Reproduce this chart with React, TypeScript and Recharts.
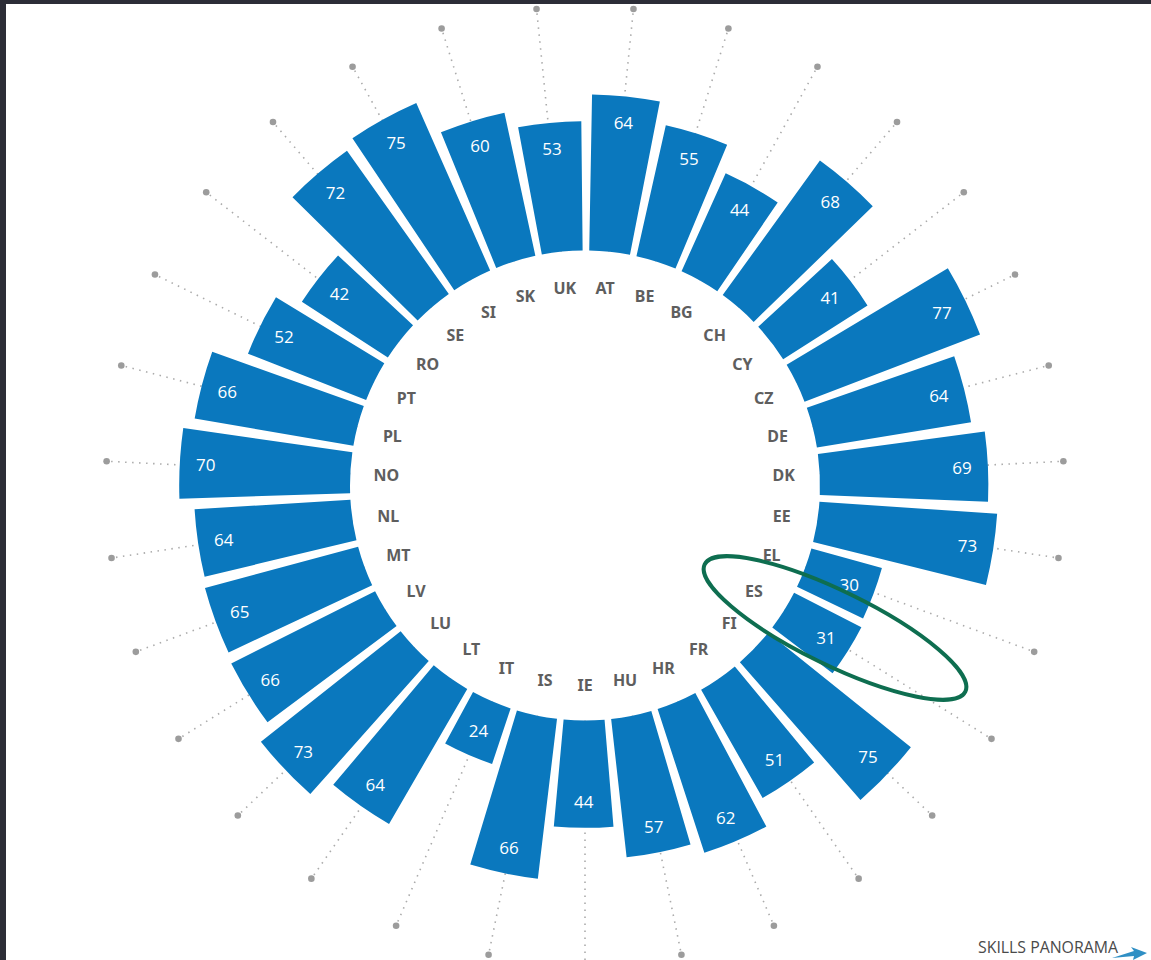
import { LabelList, PolarAngleAxis, PolarGrid, PolarRadiusAxis, RadialBar, RadialBarChart } from 'recharts';

const countries = ['AT', 'BE', 'BG', 'CH', 'CY', 'CZ', 'DE', 'DK', 'EE', 'EL', 'ES', 'FI', 'FR', 'HR', 'HU', 'IE', 'IS', 'IT', 'LT', 'LU', 'LV', 'MT', 'NL', 'NO', 'PL', 'PT', 'RO', 'SE', 'SI', 'SK', 'UK'];
const shares = [64, 55, 44, 68, 41, 77, 64, 69, 73, 30, 31, 75, 51, 62, 57, 44, 66, 24, 64, 73, 66, 65, 64, 70, 66, 52, 42, 72, 75, 60, 53];
const radiusDomain = [0, 100];

const data = countries.map((country, i) => ({ country, value: shares[i] }));

const CX = 585;
const CY = 485.5;
const INNER = 235;
const OUTER = 479;
const LABEL_R = 199;
const RAD = Math.PI / 180;
const BLUE = '#0a78be';
// one category slice, in degrees; recharts puts angle ticks on the slice edge
const STEP = 360 / countries.length;
const gridAngles = countries.map((_, i) => 90 - (i + 0.5) * STEP);

function CountryTick(props: any) {
    const { payload } = props;
    const a = (payload.coordinate + STEP / 2) * RAD;
    const lx = CX + LABEL_R * Math.cos(a);
    const ly = CY - LABEL_R * Math.sin(a);
    const dx = CX + OUTER * Math.cos(a);
    const dy = CY - OUTER * Math.sin(a);
    return (
        <g>
            <circle cx={dx} cy={dy} r={3.3} fill="#9c9c9c" />
            <text x={lx} y={ly} textAnchor="middle" dominantBaseline="central"
                fontFamily="'Noto Sans', sans-serif" fontWeight={700} fontSize={16} fill="#5e5e5e">
                {payload.value}
            </text>
        </g>
    );
}

function ValueLabel(props: any) {
    const { viewBox, value } = props;
    if (!viewBox) return null;
    const { cx, cy, outerRadius, startAngle, endAngle } = viewBox;
    const mid = ((startAngle + endAngle) / 2) * RAD;
    const r = outerRadius - 26;
    return (
        <text x={cx + r * Math.cos(mid)} y={cy - r * Math.sin(mid)} textAnchor="middle" dominantBaseline="central"
            fontFamily="'Open Sans', sans-serif" fontSize={17} fill="#ffffff">
            {value}
        </text>
    );
}

export default function App() {
    return (
        <div style={{ position: 'absolute', left: 0, top: 0, width: 1151, height: 960, background: '#fff' }}>
            <RadialBarChart
                width={1151}
                height={960}
                data={data}
                cx={CX}
                cy={CY}
                innerRadius={INNER}
                outerRadius={OUTER}
                startAngle={90 - STEP}
                endAngle={-270 - STEP}
                layout="centric"
                barCategoryGap="5%"
                margin={{ top: 0, right: 0, bottom: 0, left: 0 }}
            >
                <PolarGrid gridType="circle" polarRadius={[]} polarAngles={gridAngles}
                    stroke="#ababab" strokeWidth={1.6} strokeDasharray="1.5 5.5" />
                <PolarAngleAxis type="category" dataKey="country" axisLine={false} tickLine={false} tick={CountryTick} />
                <PolarRadiusAxis type="number" domain={radiusDomain} tick={false} axisLine={false} />
                <RadialBar dataKey="value" fill={BLUE} isAnimationActive={false}>
                    <LabelList dataKey="value" content={ValueLabel} />
                </RadialBar>
            </RadialBarChart>
            <svg width={1151} height={960} style={{ position: 'absolute', left: 0, top: 0, pointerEvents: 'none' }}>
                <rect x={0} y={0} width={1151} height={4} fill="#2c2d37" />
                <rect x={0} y={0} width={6} height={960} fill="#2c2d37" />
                <ellipse cx={835} cy={628} rx={145} ry={37} transform="rotate(26 835 628)"
                    fill="none" stroke="#0e6e50" strokeWidth={4} />
                <text x={978} y={953} fontFamily="'Open Sans', sans-serif" fontSize={16} fill="#4a4a4a"
                    textLength={140} lengthAdjust="spacingAndGlyphs">SKILLS PANORAMA</text>
                <polygon points="1112,958 1134,951 1131,947 1147,953 1133,960 1134,956" fill="#2f8fc4" />
            </svg>
        </div>
    );
}
